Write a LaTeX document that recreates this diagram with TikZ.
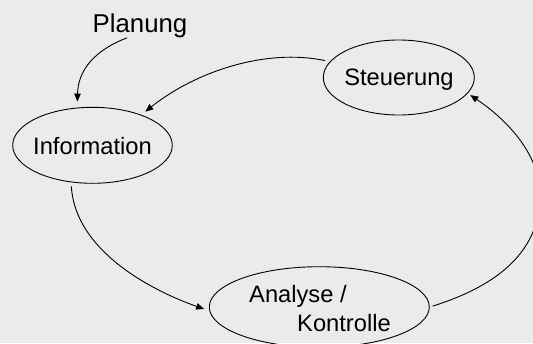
\documentclass[tikz,border=0pt]{standalone}
\usepackage{fontspec}
\setmainfont{Liberation Sans}
\usetikzlibrary{arrows.meta,shapes.geometric}
\definecolor{bg}{RGB}{235,235,235}
\begin{document}
\begin{tikzpicture}[x=1pt,y=-1pt,
  stage/.style={draw, ellipse, inner sep=0pt, line width=0.9pt},
  lbl/.style={font=\fontsize{23.7}{28}\selectfont, inner sep=0pt, anchor=base},
  conn/.style={line width=0.9pt, -{Triangle[length=8pt,width=6.5pt]}}]
\fill[bg] (0,0) rectangle (533,343);
\useasboundingbox (0,0) rectangle (533,343);
\clip (0,0) rectangle (533,343);
% stages
\node[stage, minimum width=159.6pt, minimum height=76pt] (info) at (92.5,145.3) {};
\node[stage, minimum width=151pt, minimum height=75pt] (steu) at (398.8,77.5) {};
\node[stage, minimum width=220pt, minimum height=80.6pt] (ana) at (319.3,307) {};
% texts
\node[lbl] (infot) at (92.5,154) {Information};
\node[lbl] (steut) at (399,85.5) {Steuerung};
\node[lbl, font=\fontsize{25.8}{30}\selectfont] (plan) at (140,32.3) {Planung};
\node[lbl, anchor=base west] (anat1) at (249,302.7) {Analyse /};
\node[lbl, anchor=base west] (anat2) at (297,331.7) {Kontrolle};
% connectors
\draw[conn, shorten >=6pt] ([xshift=-13pt]plan.south) .. controls (95,50) and (78,70) .. (info.112.6);
\draw[conn, shorten <=5pt, shorten >=5pt] (steu.167.3) .. controls (265,48) and (195,72) .. (info.32);
\draw[conn, shorten <=4pt, shorten >=5.5pt] (info.240.8) .. controls (75,250) and (150,290) .. (ana.182.1);
\draw[conn, shorten <=3pt, shorten >=3pt] (ana.0.5) .. controls (500,285) and (540,250) .. (540,195) .. controls (540,150) and (500,115) .. (steu.347.3);
\end{tikzpicture}
\end{document}
